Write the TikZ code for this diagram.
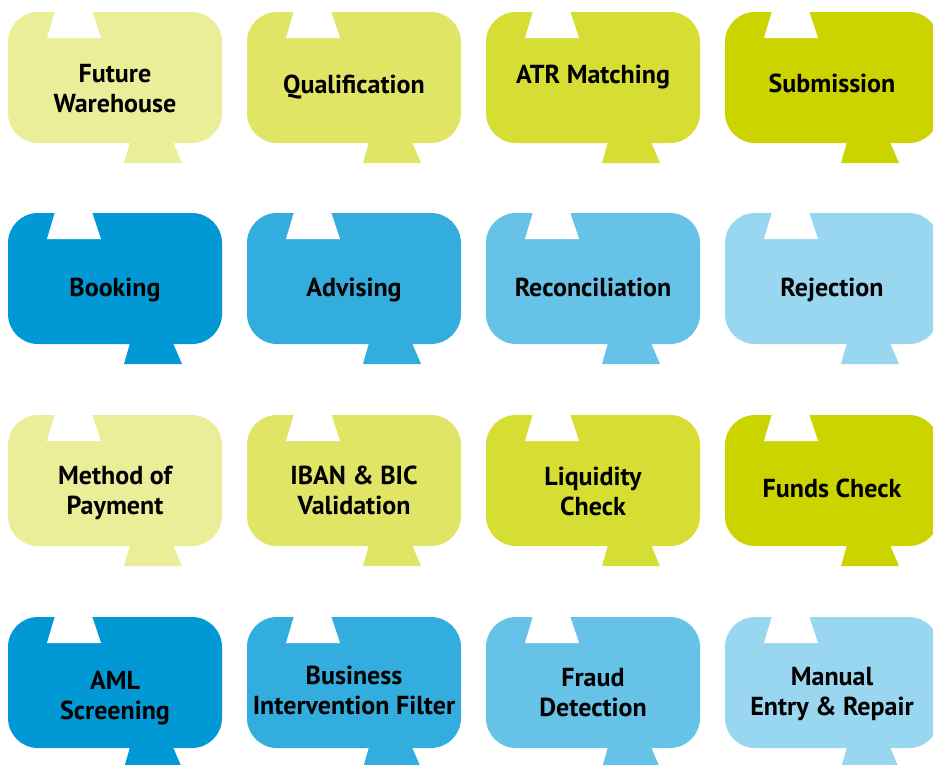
\documentclass[tikz,border=0pt]{standalone}
\usepackage{fontspec}
\setmainfont{PT Sans}
\usepackage{xcolor}
\definecolor{lime}{HTML}{CCD400}
\definecolor{sky}{HTML}{0099D6}
\tikzset{
  lbl/.style={font=\fontsize{26}{30}\selectfont\bfseries, align=center,
              anchor=base, inner sep=0pt, text=black}
}

\begin{document}
\begin{tikzpicture}[x=1pt,y=-1pt]
  \useasboundingbox (0,0) rectangle (933,764);
  % \b is the baseline of the last line
  \foreach \n/\x/\y/\b/\t/\col in {
    fw/8/12/112/{Future\\Warehouse}/lime!40,
    qual/247/12/93/{Qualification}/lime!60,
    atr/486/12/83/{ATR Matching}/lime!80,
    sub/725/12/92/{Submission}/lime,
    book/8/213/296/{Booking}/sky,
    adv/247/213/296/{Advising}/sky!80,
    rec/486/213/296/{Reconciliation}/sky!60,
    rej/725/213/296/{Rejection}/sky!40,
    mop/8/415/514/{Method of\\Payment}/lime!40,
    iban/247/415/514/{IBAN \& BIC\\Validation}/lime!60,
    liq/486/415/515/{Liquidity\\Check}/lime!80,
    funds/725/415/497/{Funds Check}/lime,
    aml/8/617/719/{AML\\Screening}/sky,
    bif/247/617/714/{Business\\Intervention Filter}/sky!80,
    fraud/486/617/716/{Fraud\\Detection}/sky!60,
    mer/725/617/715/{Manual\\Entry \& Repair}/sky!40} {
    % body, notch on top, tab below
    \fill[\col, rounded corners=30pt] (\x,\y) rectangle ++(214,131);
    \fill[white] (\x+47,\y-1) -- (\x+84,\y-1) -- (\x+93,\y+26) -- (\x+39,\y+26) -- cycle;
    \fill[\col] (\x+122,\y+130) -- (\x+165,\y+130) -- (\x+174,\y+151) -- (\x+116,\y+151) -- cycle;
    \node[lbl] (\n) at (\x+107,\b) {\t};
  }
\end{tikzpicture}
\end{document}
